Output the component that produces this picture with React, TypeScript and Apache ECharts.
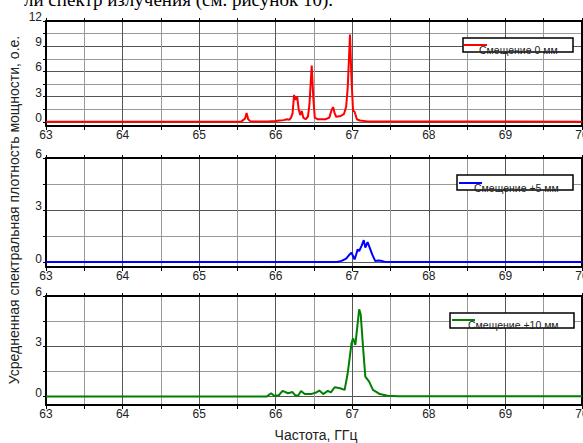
import React, { useEffect, useRef } from "react";
import * as echarts from "echarts";

// Frequency axis (GHz)
const freqMin = 63;
const freqMax = 70;

const seriesNames = ["Смещение 0 мм", "Смещение +5 мм", "Смещение +10 мм"];
const seriesColors = ["#ff0000", "#0000ff", "#008000"];

// [frequency GHz, power a.u.]
const shift0mm = [
  [63.0, 0.0], [65.55, 0.02], [65.6, 0.4], [65.62, 1.05], [65.64, 0.3], [65.67, 0.05],
  [65.9, 0.05], [66.0, 0.1], [66.05, 0.15], [66.1, 0.2], [66.15, 0.3], [66.18, 0.25],
  [66.2, 0.5], [66.22, 1.0], [66.24, 3.2], [66.26, 2.6], [66.28, 3.0], [66.3, 1.5],
  [66.32, 0.8], [66.34, 1.3], [66.36, 0.5], [66.39, 0.3], [66.42, 0.6], [66.44, 2.0],
  [66.47, 6.7], [66.49, 3.0], [66.51, 0.5], [66.55, 0.3], [66.65, 0.3], [66.7, 0.5],
  [66.73, 1.4], [66.75, 1.75], [66.77, 1.0], [66.79, 0.6], [66.85, 0.7], [66.89, 0.9],
  [66.92, 1.8], [66.94, 4.0], [66.97, 10.4], [66.99, 5.0], [67.01, 1.3], [67.03, 1.2],
  [67.06, 0.3], [67.1, 0.15], [67.2, 0.05], [70.0, 0.02],
];

const shift5mm = [
  [63.0, 0.03], [66.8, 0.04], [66.86, 0.1], [66.92, 0.23], [66.96, 0.45], [66.99, 0.57],
  [67.03, 0.19], [67.05, 0.45], [67.07, 0.76], [67.09, 0.67], [67.12, 0.95], [67.15, 1.29],
  [67.17, 0.86], [67.2, 1.18], [67.22, 0.95], [67.26, 0.47], [67.3, 0.09], [67.34, 0.12],
  [67.37, 0.11], [67.42, 0.05], [67.6, 0.03], [70.0, 0.03],
];

const shift10mm = [
  [63.0, 0.0], [65.88, 0.0], [65.94, 0.2], [65.98, 0.05], [66.04, 0.08], [66.09, 0.34],
  [66.16, 0.2], [66.22, 0.27], [66.25, 0.1], [66.29, 0.04], [66.33, 0.34], [66.38, 0.15],
  [66.46, 0.15], [66.53, 0.25], [66.57, 0.36], [66.62, 0.15], [66.68, 0.34], [66.72, 0.25],
  [66.77, 0.56], [66.84, 0.5], [66.9, 0.4], [66.94, 1.39], [66.99, 3.18], [67.01, 3.48],
  [67.04, 3.08], [67.09, 5.2], [67.11, 4.9], [67.14, 2.98], [67.17, 1.19], [67.22, 0.89],
  [67.27, 0.4], [67.36, 0.15], [67.46, 0.05], [67.6, 0.02], [70.0, 0.02],
];

const panelData = [shift0mm, shift5mm, shift10mm];

// Y axis tick labels and tick/gridline positions per panel
const yLabelsTop = [0, 3, 6, 9, 12];
const yTicksTop = [0, 1.5, 3, 4.5, 6, 7.5, 9, 10.5, 12];
const yLabelsSmall = [0, 3, 6];
const yTicksSmall = [0, 1.5, 3, 4.5, 6];
const yRanges = [
  [-0.5, 12],
  [-0.25, 6],
  [-0.5, 6],
];
const yLabelSets = [yLabelsTop, yLabelsSmall, yLabelsSmall];
const yTickSets = [yTicksTop, yTicksSmall, yTicksSmall];

const yTitle = "Усредненная спектральная плотность мощности, о.е.";
const xTitle = "Частота, ГГц";
const pageText = "ли спектр излучения (см. рисунок 10).";

const FONT = "'Liberation Sans', Arial, sans-serif";
const MAJOR_GRID = "#555555";
const MINOR_GRID = "#999999";

export default function App() {
  const ref = useRef<HTMLDivElement>(null);

  useEffect(() => {
    if (!ref.current) return;
    const chart = echarts.init(ref.current, undefined, { renderer: "svg" });

    const grids = [
      { left: 46, right: 1, top: 21, height: 105, outerBoundsMode: "none" },
      { left: 46, right: 1, top: 158, height: 109, outerBoundsMode: "none" },
      { left: 46, right: 1, top: 296, height: 109, outerBoundsMode: "none" },
    ];

    const xAxes: any[] = [];
    const yAxes: any[] = [];
    const series: any[] = [];

    grids.forEach((_, i) => {
      xAxes.push({
        type: "value",
        gridIndex: i,
        min: freqMin,
        max: freqMax,
        interval: 1,
        position: "bottom",
        axisLine: { show: true, onZero: false, lineStyle: { color: "#000", width: 2 } },
        axisTick: { show: true, inside: false, length: 4, lineStyle: { color: "#000", width: 1 } },
        minorTick: { show: true, splitNumber: 2, length: 4, lineStyle: { color: "#000", width: 1 } },
        splitLine: { show: true, lineStyle: { color: MAJOR_GRID, width: 1, type: "solid" } },
        minorSplitLine: { show: true, lineStyle: { color: MINOR_GRID, width: 1, type: "solid" } },
        axisLabel: { fontSize: 12, color: "#222", margin: 3, fontFamily: FONT },
      });
      xAxes.push({
        type: "value",
        gridIndex: i,
        min: freqMin,
        max: freqMax,
        interval: 1,
        position: "top",
        axisLine: { show: true, onZero: false, lineStyle: { color: "#000", width: 2 } },
        axisTick: { show: true, inside: false, length: 3, lineStyle: { color: "#000", width: 1 } },
        minorTick: { show: true, splitNumber: 2, length: 3, lineStyle: { color: "#000", width: 1 } },
        splitLine: { show: false },
        axisLabel: { show: false },
      });
      yAxes.push({
        type: "value",
        gridIndex: i,
        min: yRanges[i][0],
        max: yRanges[i][1],
        position: "left",
        axisLine: { show: true, onZero: false, lineStyle: { color: "#000", width: 2 } },
        axisTick: {
          show: true,
          inside: false,
          length: 3,
          customValues: yTickSets[i],
          lineStyle: { color: "#000", width: 1 },
        },
        axisLabel: {
          customValues: yLabelSets[i],
          fontSize: 12,
          lineHeight: 8,
          color: "#222",
          margin: 4,
          verticalAlign: "bottom",
          fontFamily: FONT,
        },
        splitLine: {
          show: true,
          lineStyle: { color: [MAJOR_GRID, MINOR_GRID], width: 1, type: "solid" },
        },
      });
      yAxes.push({
        type: "value",
        gridIndex: i,
        min: yRanges[i][0],
        max: yRanges[i][1],
        position: "right",
        axisLine: { show: true, onZero: false, lineStyle: { color: "#000", width: 2 } },
        axisTick: { show: false },
        axisLabel: { show: false },
        splitLine: { show: false },
      });
      series.push({
        type: "line",
        name: seriesNames[i],
        xAxisIndex: i * 2,
        yAxisIndex: i * 2,
        data: panelData[i],
        showSymbol: false,
        symbol: "none",
        lineStyle: { color: seriesColors[i], width: 2 },
        itemStyle: { color: seriesColors[i] },
        z: 3,
      });
    });

    const legendBoxes = [
      { x: 463, y: 38, w: 110, h: 14, lx1: 464, lx2: 487, ly: 45, tx: 479, ty: 49.5 },
      { x: 457, y: 175, w: 116, h: 15, lx1: 459, lx2: 482, ly: 183, tx: 474, ty: 187.5 },
      { x: 450, y: 313, w: 124, h: 15, lx1: 452, lx2: 475, ly: 320, tx: 468, ty: 325 },
    ];

    const graphics: any[] = [];
    legendBoxes.forEach((b, i) => {
      graphics.push({
        type: "rect",
        shape: { x: b.x, y: b.y, width: b.w, height: b.h },
        style: { fill: "#fff", stroke: "#000", lineWidth: 1.5 },
        z: 10,
      });
      graphics.push({
        type: "line",
        shape: { x1: b.lx1, y1: b.ly, x2: b.lx2, y2: b.ly },
        style: { stroke: seriesColors[i], lineWidth: 2 },
        z: 11,
      });
      graphics.push({
        type: "text",
        x: b.tx,
        y: b.ty,
        style: {
          text: seriesNames[i],
          font: `10.5px ${FONT}`,
          fill: "#222",
          textAlign: "left",
          textVerticalAlign: "middle",
        },
        z: 11,
      });
    });

    graphics.push({
      type: "text",
      x: 14,
      y: 210,
      rotation: Math.PI / 2,
      style: {
        text: yTitle,
        font: `14px ${FONT}`,
        fill: "#222",
        textAlign: "center",
        textVerticalAlign: "middle",
      },
    });
    graphics.push({
      type: "text",
      x: 316,
      y: 435,
      style: {
        text: xTitle,
        font: `14px ${FONT}`,
        fill: "#222",
        textAlign: "center",
        textVerticalAlign: "middle",
      },
    });
    graphics.push({
      type: "text",
      x: 333,
      y: 9,
      style: {
        text: pageText,
        font: `19px 'Liberation Serif', 'Times New Roman', serif`,
        fill: "#000",
        textAlign: "right",
        textVerticalAlign: "bottom",
      },
    });

    chart.setOption({
      animation: false,
      grid: grids,
      xAxis: xAxes,
      yAxis: yAxes,
      series,
      graphic: graphics,
    });

    return () => chart.dispose();
  }, []);

  return (
    <div
      ref={ref}
      style={{ position: "fixed", left: 0, top: 0, width: 583, height: 443, background: "#fff" }}
    />
  );
}
